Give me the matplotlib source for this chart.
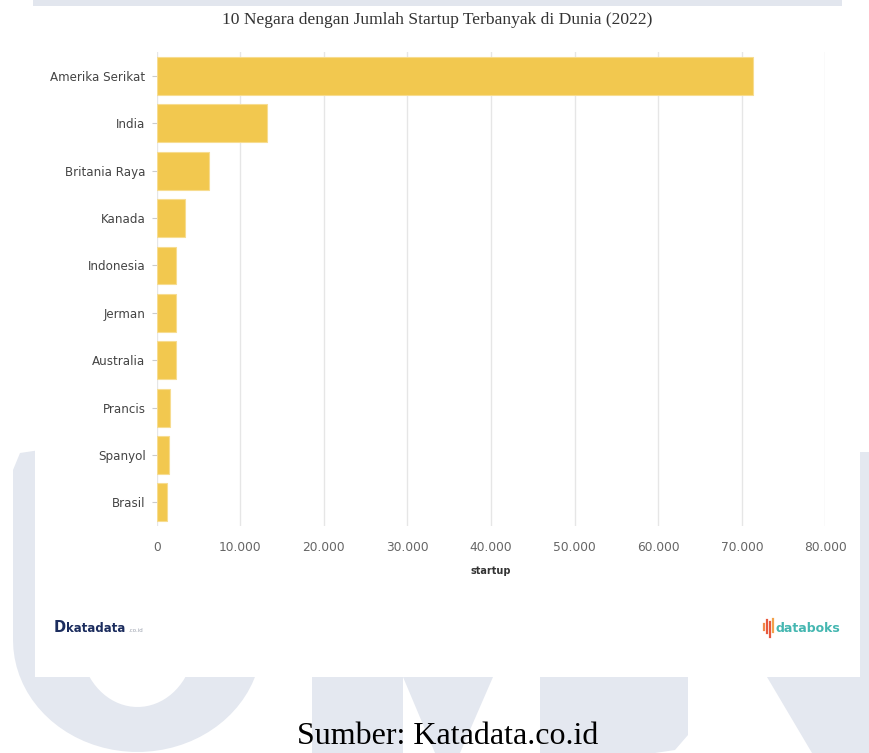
import numpy as np
import matplotlib
matplotlib.use('Agg')
import matplotlib.pyplot as plt
from matplotlib.patches import Polygon
from matplotlib.lines import Line2D

# data
negara = ['Amerika Serikat', 'India', 'Britania Raya', 'Kanada', 'Indonesia',
          'Jerman', 'Australia', 'Prancis', 'Spanyol', 'Brasil']
startup = [71300, 13200, 6300, 3400, 2350, 2350, 2350, 1650, 1450, 1200]
xticks = [0, 10000, 20000, 30000, 40000, 50000, 60000, 70000, 80000]

judul = '10 Negara dengan Jumlah Startup Terbanyak di Dunia (2022)'
sumber = 'Sumber: Katadata.co.id'

W, H = 870, 753
fig = plt.figure(figsize=(W / 100, H / 100), dpi=100)
fig.patch.set_facecolor('white')

def fx(x):
    return x / W

def fy(y):
    return 1 - y / H

def poly(pts, color, z):
    pts = [(fx(a), fy(b)) for a, b in pts]
    fig.patches.append(Polygon(pts, closed=True, transform=fig.transFigure,
                               facecolor=color, edgecolor='none', zorder=z))

wm = '#e4e8f0'

# watermark "U"
cy = 640
t = np.linspace(np.pi, 0, 40)
outer = [(137.5 + 124.5 * np.cos(a), cy + 112 * np.sin(a)) for a in t]
inner = [(137.5 + 57.5 * np.cos(a), cy + 67 * np.sin(a)) for a in t[::-1]]
poly([(80, 450), (40, 450), (20, 453), (13, 470)] + outer + [(262, 450), (195, 450)] + inner, wm, 0)
# watermark "M"
poly([(312, 677), (403, 677), (403, 753), (312, 753)], wm, 0)
poly([(403, 677), (493, 677), (460, 753), (435, 753)], wm, 0)
poly([(540, 677), (688, 677), (688, 735), (675, 750), (655, 753), (540, 753)], wm, 0)
# watermark "N"
poly([(825, 475), (835, 455), (850, 452), (870, 452), (870, 753), (825, 753)], wm, 0)
poly([(767, 677), (830, 677), (860, 753), (812, 753)], wm, 0)

# top strip
poly([(33, 0), (842, 0), (842, 6), (33, 6)], '#e2e6ee', 1)
# white card
poly([(35, 6), (860, 6), (860, 677), (35, 677)], 'white', 1)

ax = fig.add_axes([fx(156.7), fy(526), fx(825.5) - fx(156.7), fy(52.3) - fy(526)])
ax.set_zorder(2)
ax.patch.set_alpha(0)

y = np.arange(len(negara))
ax.barh(y, startup, height=0.8, color='#f2c84f', edgecolor='#f7dc90', linewidth=0.8, zorder=3)
ax.set_ylim(len(negara) - 0.5, -0.5)
ax.set_xlim(0, 80000)
ax.set_yticks(y)
ax.set_yticklabels(negara, fontsize=8.6, color='#444444')
ax.set_xticks(xticks)
ax.set_xticklabels([f'{v:,}'.replace(',', '.') for v in xticks], fontsize=8.8, color='#666666')
ax.tick_params(axis='y', length=3.5, width=0.8, color='#cccccc', pad=4.5)
ax.tick_params(axis='x', length=0, pad=11)
ax.grid(axis='x', color='#e6e6e6', linewidth=1, zorder=0)
for s in ax.spines.values():
    s.set_visible(False)

fig.text(fx(491), fy(571), 'startup', ha='center', va='center', fontsize=7,
         fontweight='bold', color='#333333', zorder=3)

fig.text(fx(437), fy(20), judul, ha='center', va='center', fontsize=12.6,
         family='Liberation Serif', color='#333333', zorder=3)

# katadata logo
fig.text(fx(54), fy(628), 'D', ha='left', va='center', fontsize=10.5, fontweight='heavy',
         color='#1c2d5e', zorder=3)
fig.text(fx(66), fy(628), 'katadata', ha='left', va='center', fontsize=8.5, fontweight='bold',
         color='#1c2d5e', zorder=3)
fig.text(fx(128), fy(631), '.co.id', ha='left', va='center', fontsize=4,
         color='#9aa0ad', zorder=3)

# databoks logo
bars = [(764, 624, 630, '#f08a4b'), (767, 620, 633, '#e8583d'), (770, 622, 637, '#e8583d'),
        (773, 619, 632, '#f2a14a')]
for bx, y0, y1, c in bars:
    fig.lines.append(Line2D([fx(bx), fx(bx)], [fy(y0), fy(y1)], transform=fig.transFigure,
                            color=c, linewidth=1.6, zorder=3))
fig.text(fx(776), fy(628), 'databoks', ha='left', va='center', fontsize=9, fontweight='bold',
         color='#45b7b1', zorder=3)

fig.text(fx(448), fy(737), sumber, ha='center', va='center', fontsize=23,
         family='Liberation Serif', color='black', zorder=3)

plt.savefig('out.png', dpi=100)
